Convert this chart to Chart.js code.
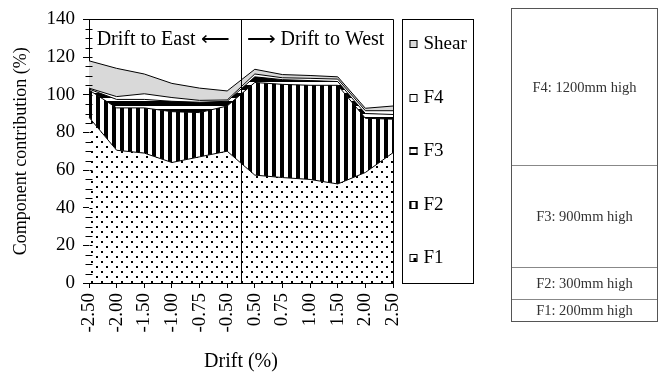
<!DOCTYPE html>
<html>
<head>
<meta charset="utf-8">
<script src="https://cdn.jsdelivr.net/npm/chart.js@4.4.0/dist/chart.umd.min.js"></script>
<style>
  html, body { margin: 0; padding: 0; background: #fff; }
  #wrap { position: relative; width: 658px; height: 376px; overflow: hidden; }
  #chart { position: absolute; left: 0; top: 0; }
  .wall {
    position: absolute; left: 511px; top: 8px; width: 145px; height: 312px;
    border: 1px solid #555; font-family: "Liberation Serif", serif; font-size: 14.5px; color: #333;
  }
  .wall div { display: flex; align-items: center; justify-content: center; box-sizing: border-box; }
  .wall div + div { border-top: 1px solid #888; }
  .f4 { height: 156px; }
  .f3 { height: 102px; }
  .f2 { height: 32px; }
  .f1 { height: 22px; }
</style>
</head>
<body>
<div id="wrap">
  <canvas id="chart" width="658" height="376"></canvas>
  <div class="wall">
    <div class="f4">F4: 1200mm high</div>
    <div class="f3">F3: 900mm high</div>
    <div class="f2">F2: 300mm high</div>
    <div class="f1">F1: 200mm high</div>
  </div>
</div>
<script>
// drift steps and the share of each component (%)
const drift = ['-2.50', '-2.00', '-1.50', '-1.00', '-0.75', '-0.50', '0.50', '0.75', '1.00', '1.50', '2.00', '2.50'];
const f1 = [88, 70.5, 69, 64, 67, 70, 57.3, 56, 55, 52.6, 58.7, 69.2];
const f2 = [14.5, 22.5, 24, 27, 23.5, 24, 49.2, 49.5, 50, 52.4, 28.8, 17.8];
const f3 = [0.5, 4.5, 4.5, 5.5, 5.5, 2.5, 3, 2.5, 2.5, 2, 2.5, 2.5];
const f4 = [0.5, 1.5, 3, 2, 1, 0.7, 1.5, 1, 1.2, 1.3, 1.5, 2];
const shear = [14.5, 15, 10.5, 7.5, 6.5, 4.8, 2.5, 1.7, 1.5, 1.2, 1.3, 2.5];
const yTicks = [0, 20, 40, 60, 80, 100, 120, 140];

const serif = '"Liberation Serif", "Times New Roman", serif';
const shearGrey = '#d9d9d9';

const makePattern = (w, h, draw) => {
  const c = document.createElement('canvas');
  c.width = w;
  c.height = h;
  const g = c.getContext('2d');
  g.fillStyle = '#fff';
  g.fillRect(0, 0, w, h);
  g.fillStyle = '#000';
  draw(g);
  return g.createPattern(c, 'repeat');
};

const dotFill = makePattern(10, 10, (g) => {
  g.fillRect(1, 1, 2, 2);
  g.fillRect(6, 6, 2, 2);
});
const vStripes = makePattern(8, 1, (g) => g.fillRect(0, 0, 4, 1));
const hStripes = makePattern(1, 8, (g) => {
  g.fillRect(0, 5, 1, 3);
  g.fillRect(0, 0, 1, 2);
});

// small legend swatches
const swatch = {
  Shear: (ctx, x, y, s) => { ctx.fillStyle = shearGrey; ctx.fillRect(x, y, s, s); },
  F4: () => {},
  F3: (ctx, x, y, s) => { ctx.fillStyle = '#000'; ctx.fillRect(x, y, s, 2); ctx.fillRect(x, y + s - 2, s, 2); },
  F2: (ctx, x, y, s) => { ctx.fillStyle = '#000'; ctx.fillRect(x, y, 2, s); ctx.fillRect(x + s - 2, y, 2, s); },
  F1: (ctx, x, y, s) => { ctx.fillStyle = '#000'; ctx.fillRect(x + s - 4, y + s - 4, 3, 3); },
};

const decorations = {
  id: 'decorations',
  afterDraw(chart) {
    const { ctx, chartArea: a, scales } = chart;
    const xs = scales.x;
    const ys = scales.y;
    ctx.save();
    ctx.strokeStyle = '#000';
    ctx.lineWidth = 1;

    // frame around the plot
    ctx.beginPath();
    ctx.moveTo(Math.round(a.left) + 0.5, Math.round(a.top) + 0.5);
    ctx.lineTo(Math.round(a.right) + 0.5, Math.round(a.top) + 0.5);
    ctx.lineTo(Math.round(a.right) + 0.5, Math.round(a.bottom) + 0.5);
    ctx.stroke();

    // east / west divider
    const midX = Math.round(xs.getPixelForValue(5.5)) + 0.5;
    ctx.beginPath();
    ctx.moveTo(midX, a.top);
    ctx.lineTo(midX, a.bottom);
    ctx.stroke();

    // minor ticks on y
    const axisX = Math.round(a.left) + 0.5;
    ctx.beginPath();
    for (let v = 0; v <= 140; v += 5) {
      const py = Math.round(ys.getPixelForValue(v)) + 0.5;
      if (v % 20 === 0) {
        ctx.moveTo(axisX, py);
        ctx.lineTo(axisX + 3, py);
      } else {
        ctx.moveTo(axisX - 4, py);
        ctx.lineTo(axisX + 3, py);
      }
    }
    ctx.stroke();

    ctx.fillStyle = '#000';
    ctx.font = '20px ' + serif;
    ctx.textBaseline = 'middle';
    ctx.textAlign = 'right';
    ctx.fillText('Drift to East \u27F5', midX - 12, a.top + 20);
    ctx.textAlign = 'left';
    ctx.fillText('\u27F6 Drift to West', midX + 5, a.top + 20);

    // legend box
    ctx.font = '19px ' + serif;
    const lx = Math.round(a.right) + 9.5;
    ctx.strokeRect(lx, Math.round(a.top) + 0.5, 71, Math.round(a.bottom - a.top));
    const items = chart.data.datasets.slice().reverse();
    items.forEach((ds, i) => {
      const cy = a.top + 25 + i * 53.5;
      const s = 8;
      const sx = lx + 7;
      const sy = Math.round(cy - s / 2);
      ctx.fillStyle = '#fff';
      ctx.fillRect(sx, sy, s, s);
      swatch[ds.label](ctx, sx, sy, s);
      ctx.strokeStyle = '#000';
      ctx.strokeRect(sx + 0.5, sy + 0.5, s - 1, s - 1);
      ctx.fillStyle = '#000';
      ctx.textAlign = 'left';
      ctx.fillText(ds.label, lx + 21, cy);
    });
    ctx.restore();
  },
};

const layer = (label, data, fill, bg) => ({
  label,
  data,
  fill,
  backgroundColor: bg,
  borderColor: '#000',
  borderWidth: 1,
  pointRadius: 0,
  tension: 0,
});

new Chart(document.getElementById('chart'), {
  type: 'line',
  data: {
    labels: drift,
    datasets: [
      layer('F1', f1, 'origin', dotFill),
      layer('F2', f2, '-1', vStripes),
      layer('F3', f3, '-1', hStripes),
      layer('F4', f4, '-1', '#fff'),
      layer('Shear', shear, '-1', shearGrey),
    ],
  },
  options: {
    responsive: false,
    animation: false,
    devicePixelRatio: 1,
    layout: { padding: { top: 17, right: 265, left: 0, bottom: 0 } },
    plugins: {
      legend: { display: false },
      tooltip: { enabled: false },
      filler: { drawTime: 'beforeDatasetsDraw' },
    },
    scales: {
      x: {
        offset: false,
        border: { color: '#000', width: 1 },
        grid: { drawOnChartArea: false, tickLength: 5, color: '#000' },
        ticks: {
          autoSkip: false,
          minRotation: 90,
          maxRotation: 90,
          padding: 5,
          color: '#000',
          font: { family: serif, size: 19 },
        },
        title: {
          display: true,
          text: 'Drift (%)',
          color: '#000',
          font: { family: serif, size: 20 },
          padding: { bottom: 2 },
        },
        afterFit: (s) => { s.height = 93; },
      },
      y: {
        stacked: true,
        min: 0,
        max: 140,
        border: { color: '#000', width: 1 },
        grid: { drawOnChartArea: false, tickLength: 6, color: '#000' },
        afterBuildTicks: (s) => { s.ticks = yTicks.map((v) => ({ value: v })); },
        ticks: {
          padding: 8,
          color: '#000',
          font: { family: serif, size: 19 },
        },
        title: {
          display: true,
          text: 'Component contribution (%)',
          color: '#000',
          font: { family: serif, size: 18 },
          padding: { top: 10 },
        },
        afterFit: (s) => { s.width = 89; },
      },
    },
  },
  plugins: [decorations],
});
</script>
</body>
</html>
